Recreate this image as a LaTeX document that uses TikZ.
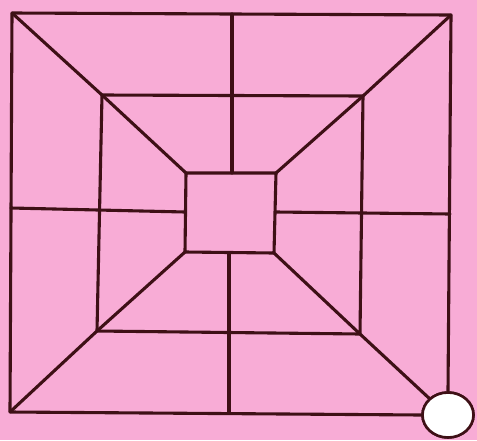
\documentclass[tikz,border=0pt]{standalone}
\usetikzlibrary{shapes.geometric}
\definecolor{bgpink}{RGB}{248,172,214}
\definecolor{ink}{RGB}{62,16,22}
\begin{document}
\begin{tikzpicture}[x=1pt,y=-1pt,
  edge/.style={draw=ink,line width=3.1pt,line cap=round,line join=round},
  ring/.style={ellipse,draw=ink,line width=2.6pt,fill=white,minimum width=51pt,minimum height=45pt,inner sep=0pt}]
\fill[bgpink] (0,0) rectangle (477,440);
\useasboundingbox (0,0) rectangle (477,440);
% outer corners
\coordinate (oTL) at (12,13);
\coordinate (oTR) at (451,15);
\coordinate (oBL) at (10,412);
\node[ring] (c) at (448,415) {};
% middle square
\coordinate (mTL) at (102,95);
\coordinate (mTR) at (363,96);
\coordinate (mBR) at (360,334);
\coordinate (mBL) at (97,331);
% inner square
\coordinate (iTL) at (186,173);
\coordinate (iTR) at (276,173);
\coordinate (iBR) at (274,253);
\coordinate (iBL) at (185,252);
% mid points
\coordinate (tOut) at (232,14);
\coordinate (tIn) at (232,173);
\coordinate (bIn) at (229,253);
\coordinate (bOut) at (229,413);
\coordinate (lOut) at (11,208);
\coordinate (lIn) at (185,212);
\coordinate (rIn) at (276,212);
\coordinate (rOut) at (450,214);
% outer square
\draw[edge] (c.north) -- (oTR) -- (oTL) -- (oBL) -- (c.west);
% middle square
\draw[edge] (mTL) -- (mTR) -- (mBR) -- (mBL) -- cycle;
% inner square
\draw[edge] (iTL) -- (iTR) -- (iBR) -- (iBL) -- cycle;
% diagonals
\draw[edge] (oTL) -- (mTL) -- (iTL);
\draw[edge] (oTR) -- (mTR) -- (iTR);
\draw[edge] (oBL) -- (mBL) -- (iBL);
\draw[edge] (iBR) -- (mBR) -- (c.north west);
% midlines
\draw[edge] (tOut) -- (tIn);
\draw[edge] (bIn) -- (bOut);
\draw[edge] (lOut) -- (lIn);
\draw[edge] (rIn) -- (rOut);
% redraw circle on top of line ends
\draw[draw=ink,line width=2.6pt,fill=white] (c.center) ellipse [x radius=25.5pt,y radius=22.5pt];
\end{tikzpicture}
\end{document}
